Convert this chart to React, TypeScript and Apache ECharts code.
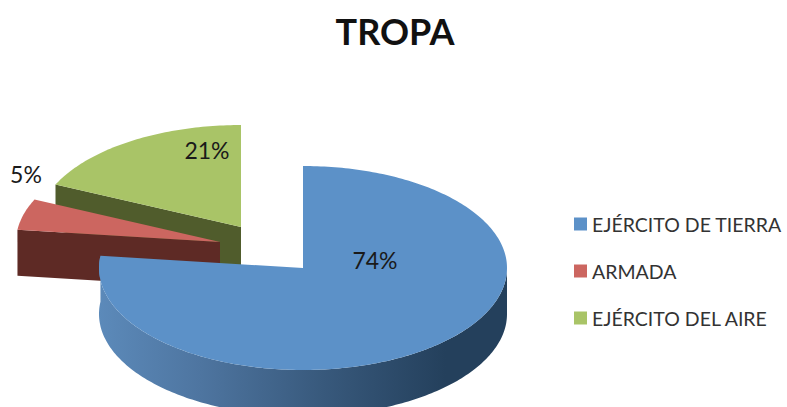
import React, { useEffect, useRef } from "react";
import * as echarts from "echarts";

const titleText = "TROPA";
const categories = ["EJÉRCITO DE TIERRA", "ARMADA", "EJÉRCITO DEL AIRE"];
const values = [74, 5, 21];
const topColors = ["#5C91C8", "#CC6660", "#A9C467"];
const wallColors = ["#24405C", "#5E2A25", "#505C2C"];

// layout of the exploded 3-D pie
const RX = 204;
const RY = 102;
const DEPTH = 46;
const VIEW_SKEW = 10.5; // degrees of angle distortion from the 3-D view
const sliceCenters = [[303, 268], [220, 242], [241, 227]];
const labelOffsets = [[72, -8], [-194, -68], [-34, -77]];

const total = values.reduce((a, b) => a + b, 0);
const RAD = Math.PI / 180;
const skew = (deg: number) => deg - VIEW_SKEW * Math.sin(deg * RAD);
const at = (c: number[], deg: number, dy = 0) => [
  c[0] + RX * Math.sin(deg * RAD),
  c[1] - RY * Math.cos(deg * RAD) + dy,
];
const arc = (c: number[], from: number, to: number, dy = 0) => {
  const pts: number[][] = [];
  const n = Math.max(2, Math.ceil(Math.abs(to - from)));
  for (let i = 0; i <= n; i++) pts.push(at(c, from + ((to - from) * i) / n, dy));
  return pts;
};

const startOf = (idx: number) =>
  (values.slice(0, idx).reduce((a, b) => a + b, 0) / total) * 360;

const renderSlice = (idx: number) => (_params: any, api: any) => {
  const value = api.value(0) as number;
  const c = sliceCenters[idx];
  const a0 = startOf(idx);
  const from = skew(a0);
  const to = skew(a0 + (value / total) * 360);
  const children: any[] = [];

  if (idx === 0) {
    const wallFrom = Math.max(from, 90);
    const wall = [...arc(c, wallFrom, to), ...arc(c, to, wallFrom, DEPTH)];
    children.push({
      type: "polygon",
      shape: { points: wall },
      style: {
        fill: new echarts.graphic.LinearGradient(
          98, 0, 507, 0,
          [
            { offset: 0, color: "#5C8ABA" },
            { offset: 0.25, color: "#4E75A0" },
            { offset: 0.55, color: "#38597C" },
            { offset: 0.85, color: "#24405C" },
            { offset: 1, color: "#24405C" },
          ],
          true,
        ),
      },
    });
  } else {
    // cut face seen from the front, along the slice's starting radius
    const p = at(c, from);
    children.push({
      type: "polygon",
      shape: { points: [c, p, [p[0], p[1] + DEPTH], [c[0], c[1] + DEPTH]] },
      style: { fill: wallColors[idx] },
    });
  }

  children.push({
    type: "polygon",
    shape: { points: [c, ...arc(c, from, to)] },
    style: { fill: topColors[idx] },
  });
  children.push({
    type: "text",
    style: {
      text: `${value}%`,
      x: c[0] + labelOffsets[idx][0],
      y: c[1] + labelOffsets[idx][1],
      fill: "#1a1a1a",
      font: "23px Lato",
      textAlign: "center",
      textVerticalAlign: "middle",
    },
  });
  return { type: "group", children };
};

export default function App() {
  const ref = useRef<HTMLDivElement>(null);
  useEffect(() => {
    const chart = echarts.init(ref.current!, null, { renderer: "svg" });
    const drawOrder = [2, 1, 0];
    chart.setOption({
      animation: false,
      backgroundColor: "#ffffff",
      title: {
        text: titleText,
        left: 390,
        textAlign: "center",
        top: 8,
        textStyle: { fontFamily: "Lato", fontWeight: "bold", fontSize: 36, color: "#111111" },
      },
      legend: {
        data: categories,
        orient: "vertical",
        left: 574,
        top: 214,
        padding: 0,
        itemWidth: 13,
        itemHeight: 13,
        itemGap: 27,
        icon: "rect",
        textStyle: { fontFamily: "Lato", fontSize: 19.5, color: "#333333", padding: [10, 0, 0, 0] },
        selectedMode: false,
      },
      series: drawOrder.map((i) => ({
        type: "custom",
        name: categories[i],
        coordinateSystem: "none",
        silent: true,
        itemStyle: { color: topColors[i] },
        data: [[values[i]]],
        renderItem: renderSlice(i),
      })),
    });
    return () => chart.dispose();
  }, []);
  return (
    <div
      ref={ref}
      style={{ position: "absolute", left: 0, top: 0, width: 787, height: 407 }}
    />
  );
}
